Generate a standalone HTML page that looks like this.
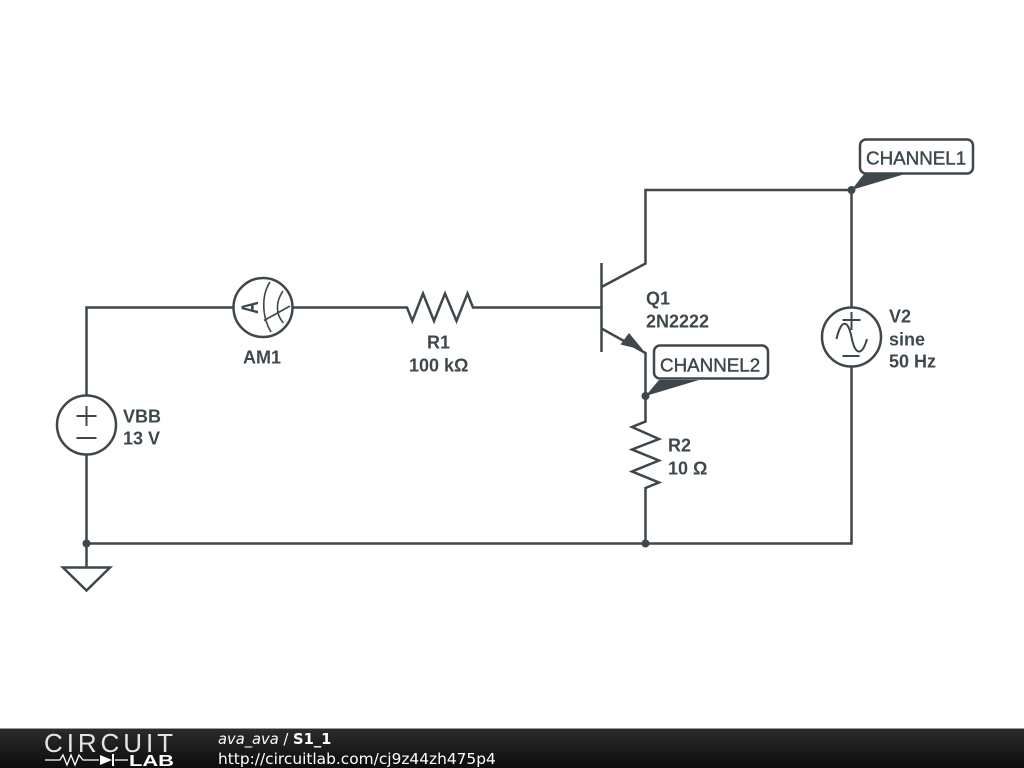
<!DOCTYPE html>
<html>
<head>
<meta charset="utf-8">
<style>
html,body{margin:0;padding:0;background:#fff;width:1024px;height:768px;overflow:hidden}
svg{display:block}
.l{font-family:"Liberation Sans",sans-serif;font-weight:bold;font-size:18px;fill:#3d474c}
.c{font-family:"Liberation Sans",sans-serif;font-size:18.8px;fill:#3d474c;stroke:#3d474c;stroke-width:.4px}
.f{font-family:"DejaVu Sans",sans-serif;font-size:15.4px;fill:#fff}
</style>
</head>
<body>
<svg width="1024" height="768" viewBox="0 0 1024 768" xmlns="http://www.w3.org/2000/svg">
<defs>
<linearGradient id="g" x1="0" y1="0" x2="0" y2="1"><stop offset="0" stop-color="#2b2b2b"/><stop offset="1" stop-color="#0c0c0c"/></linearGradient>
</defs>
<g fill="none" stroke="#3d474c" stroke-width="2.5" stroke-linejoin="miter">
<path d="M86.500 395V307.500H233M293 307.500H407L412.300 321 423 293.500 434 321 445 293.500 456.500 321 467.500 293.500 473 307.500H601.500"/>
<path d="M86.500 455V543.500H851.500V367M851.500 307V190H645.500V263.500L601.500 287M601.500 263V352"/>
<path d="M601.500 328.500L645.500 353V421.500L632 427 659 439 632 449.500 659 460.500 632 471.500 659 482.500 645.500 488V543.500"/>
<path d="M86.500 543.500V567M63 567.500H110L86.500 590.500Z"/>
<circle cx="86.500" cy="425" r="29.500"/>
<circle cx="851.500" cy="337" r="29.500"/>
<circle cx="263" cy="307.500" r="29.500"/>
<path d="M86.500 406V426M76.500 416H96.500M76.500 438H96.500" stroke-width="2"/>
<path d="M851.500 312V330M842.500 320H860.500M842.500 356H859.500" stroke-width="2"/>
<path d="M836.500 339C841 319 848 319 851.500 337S862 357 867 339" stroke-width="2"/>
<path d="M270 282C262 294 261 315 271 332M283 291C276 301 275 314 283.500 323M264 320.500L290 306" stroke-width="1.600"/>
<rect x="860" y="139.500" width="113" height="34" rx="6" fill="#fff"/>
<rect x="654" y="345.500" width="114" height="33" rx="6" fill="#fff"/>
</g>
<path d="M643 350L629 333 620.500 344.500Z" fill="#3d474c"/>
<g fill="#3d474c">
<circle cx="86.500" cy="543.500" r="4"/>
<circle cx="645.500" cy="543.500" r="4"/>
<circle cx="851.500" cy="190" r="4"/>
<circle cx="645.500" cy="396" r="4"/>
<path d="M851.500 190L864 174H905Z"/>
<path d="M645.500 396L659 380H699Z"/>
</g>
<text class="l" transform="translate(258 307.500) rotate(-90) scale(1.100 1.500)" text-anchor="middle" style="font-size:16px">A</text>
<text class="l" x="243" y="363.500">AM1</text>
<text class="l" x="427" y="348.500">R1</text>
<text class="l" x="409" y="371.500">100 kΩ</text>
<text class="l" x="646" y="304.500">Q1</text>
<text class="l" x="646" y="327.500">2N2222</text>
<text class="l" x="668" y="451.500">R2</text>
<text class="l" x="668" y="474.500">10 Ω</text>
<text class="l" x="889" y="322.500">V2</text>
<text class="l" x="889" y="345.500">sine</text>
<text class="l" x="889" y="367.500">50 Hz</text>
<text class="l" x="123" y="422.500">VBB</text>
<text class="l" x="123" y="444.500">13 V</text>
<text class="c" x="866" y="164.500">CHANNEL1</text>
<text class="c" x="660" y="371.500">CHANNEL2</text>
<rect x="0" y="729" width="1024" height="39" fill="url(#g)"/>
<rect x="0" y="728" width="1024" height="1" fill="#9a9a9a"/>
<text x="44" y="752" style="font-family:'Liberation Sans',sans-serif;font-size:26px;fill:#e4e4e4" textLength="129" lengthAdjust="spacing">CIRCUIT</text>
<path d="M45 760H60L63 755 67 765 71 755 75 765 79 755 83 760H99M115 760H128" fill="none" stroke="#fff" stroke-width="1.300"/>
<path d="M100 755L112 760 100 765Z" fill="#fff"/>
<rect x="112" y="754" width="2" height="12" fill="#fff"/>
<text x="129" y="766" style="font-family:'Liberation Sans',sans-serif;font-weight:bold;font-size:16px;fill:#fff" textLength="45" lengthAdjust="spacingAndGlyphs">LAB</text>
<text class="f" x="218" y="744" style="font-size:14.700px"><tspan font-style="italic">ava_ava</tspan> / <tspan font-weight="bold">S1_1</tspan></text>
<text class="f" x="218" y="764">http://circuitlab.com/cj9z44zh475p4</text>
</svg>
</body>
</html>
